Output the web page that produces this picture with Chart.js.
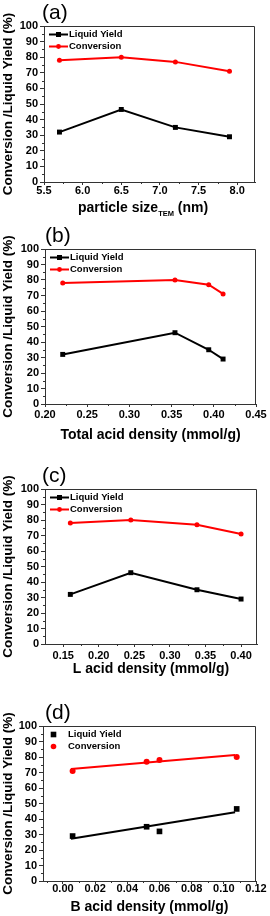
<!DOCTYPE html>
<html><head><meta charset="utf-8">
<script src="https://cdn.jsdelivr.net/npm/chart.js@4/dist/chart.umd.min.js"></script>
<style>
html,body{margin:0;padding:0;background:#fff;width:270px;height:916px;overflow:hidden}
.p{position:absolute;left:0;width:270px}
canvas{display:block}
</style></head><body>
<div class="p" style="top:0"><canvas id="ca" width="270" height="225"></canvas></div>
<div class="p" style="top:225px"><canvas id="cb" width="270" height="230"></canvas></div>
<div class="p" style="top:455px"><canvas id="cc" width="270" height="230"></canvas></div>
<div class="p" style="top:685px"><canvas id="cd" width="270" height="231"></canvas></div>
<script>
// ---------- data ----------
const yTicks = [0,10,20,30,40,50,60,70,80,90,100];
const yMinor = [5,15,25,35,45,55,65,75,85,95];

// (a) particle size
const sizeTEM = [5.7, 6.5, 7.2, 7.9];
const yieldA  = [32, 46.5, 35, 29];
const convA   = [78, 80, 77, 71];
const ticksA  = [5.5, 6.0, 6.5, 7.0, 7.5, 8.0];
const minorA  = [5.75, 6.25, 6.75, 7.25, 7.75];

// (b) total acid density
const totalAcid = [0.221, 0.354, 0.394, 0.411];
const yieldB    = [32, 46, 35, 29];
const convB     = [78, 80, 77, 71];
const ticksB    = [0.20, 0.25, 0.30, 0.35, 0.40, 0.45];
const minorB    = [0.225, 0.275, 0.325, 0.375, 0.425];

// (c) L acid density
const lAcid  = [0.16, 0.245, 0.338, 0.40];
const yieldC = [32, 46, 35, 29];
const convC  = [78, 80, 77, 71];
const ticksC = [0.15, 0.20, 0.25, 0.30, 0.35, 0.40];
const minorC = [0.175, 0.225, 0.275, 0.325, 0.375];

// (d) B acid density (points + linear fits)
const bAcid  = [0.006, 0.052, 0.060, 0.108];
const yieldD = [29, 35, 32, 46.5];
const convD  = [71, 77, 78, 80];
const fitX   = [0.005, 0.107];
const fitYieldD = [27.2, 44.3];
const fitConvD  = [72.3, 81.3];
const ticksD = [0.00, 0.02, 0.04, 0.06, 0.08, 0.10, 0.12];
const minorD = [-0.01, 0.01, 0.03, 0.05, 0.07, 0.09, 0.11];

const seriesNames = ['Liquid Yield', 'Conversion'];
const yTitle = 'Conversion /Liquid Yield (%)';

// ---------- drawing ----------
const F = '"Liberation Sans", Arial, Helvetica, sans-serif';
const AX = '#333';
const pts = (xs, ys) => xs.map((x, i) => ({x, y: ys[i]}));

const deco = {
  id: 'deco',
  afterDraw(chart, args, o) {
    const ctx = chart.ctx, a = chart.chartArea;
    const xs = chart.scales.x, ys = chart.scales.y;
    ctx.save();
    // frame (top/right)
    ctx.strokeStyle = AX; ctx.lineWidth = 1;
    ctx.beginPath();
    ctx.moveTo(a.left, a.top + 0.5); ctx.lineTo(a.right - 0.5, a.top + 0.5); ctx.lineTo(a.right - 0.5, a.bottom);
    ctx.stroke();
    // minor ticks
    ctx.beginPath();
    o.yMinor.forEach(v => { const p = Math.round(ys.getPixelForValue(v)) + 0.5; ctx.moveTo(a.left - 2, p); ctx.lineTo(a.left, p); });
    o.xMinor.forEach(v => { const p = Math.round(xs.getPixelForValue(v)) + 0.5; ctx.moveTo(p, a.bottom); ctx.lineTo(p, a.bottom + 2); });
    ctx.stroke();
    // legend
    ctx.font = 'bold 9.5px ' + F; ctx.textBaseline = 'middle'; ctx.textAlign = 'left'; ctx.fillStyle = '#000';
    chart.data.datasets.forEach((ds, i) => {
      if (!ds.legend) return;
      const y = a.top + 8.5 + 12 * (ds.legendRow);
      const x0 = a.left + 5, x1 = a.left + 24;
      if (ds.showLine) {
        ctx.strokeStyle = ds.borderColor; ctx.lineWidth = 2;
        ctx.beginPath(); ctx.moveTo(x0, y); ctx.lineTo(x1, y); ctx.stroke();
      }
      ctx.fillStyle = ds.backgroundColor;
      const cx = (x0 + x1) / 2 - (ds.showLine ? 0 : 4);
      if (ds.pointStyle === 'rect') { const s = ds.showLine ? 2.5 : 2.8; ctx.fillRect(cx - s, y - s, 2 * s, 2 * s); }
      else { ctx.beginPath(); ctx.arc(cx, y, ds.showLine ? 2.4 : 2.8, 0, Math.PI * 2); ctx.fill(); }
      ctx.fillStyle = '#000';
      ctx.fillText(ds.label, a.left + 25, y);
    });
    // panel label
    ctx.font = '21px ' + F; ctx.fillStyle = '#000'; ctx.textAlign = 'left'; ctx.textBaseline = 'middle';
    ctx.fillText(o.label, o.labelX, a.top - 13);
    // custom x title with subscript
    if (o.subTitle) {
      const st = o.subTitle; let x = st.x; const y = a.bottom + 26;
      ctx.font = 'bold 14px ' + F; ctx.fillText(st.main, x, y); x += ctx.measureText(st.main).width;
      ctx.font = 'bold 7.5px ' + F; ctx.fillText(st.sub, x, y + 5.5); x += ctx.measureText(st.sub).width;
      ctx.font = 'bold 14px ' + F; ctx.fillText(st.rest, x, y);
    }
    ctx.restore();
  }
};

function lineSets(xs, y1, y2) {
  return [
    {label: seriesNames[0], legend: true, legendRow: 0, data: pts(xs, y1), showLine: true,
     borderColor: '#000', backgroundColor: '#000', borderWidth: 2, pointStyle: 'rect', pointRadius: 3.5,
     pointBorderWidth: 0},
    {label: seriesNames[1], legend: true, legendRow: 1, data: pts(xs, y2), showLine: true,
     borderColor: '#ff0000', backgroundColor: '#ff0000', borderWidth: 2, pointStyle: 'circle', pointRadius: 2.5,
     pointBorderWidth: 0}
  ];
}

function makeChart(id, c) {
  return new Chart(document.getElementById(id), {
    type: 'scatter',
    data: {datasets: c.datasets},
    options: {
      responsive: false, animation: false, devicePixelRatio: 1,
      layout: {autoPadding: false, padding: {left: 0, top: c.pt, right: 270 - c.pr, bottom: c.H - c.pb - c.xh}},
      plugins: {legend: {display: false}, tooltip: {enabled: false},
        deco: {yMinor, xMinor: c.xMinor, label: c.label, labelX: c.labelX, subTitle: c.subTitle}},
      scales: {
        x: {type: 'linear', min: c.xmin, max: c.xmax,
          afterBuildTicks: s => { s.ticks = c.xTicks.map(v => ({value: v})); },
          afterFit: s => { s.height = c.xh; },
          ticks: {font: {family: F, size: 11, weight: 'bold'}, color: '#000', padding: c.tpad,
            maxRotation: 0, autoSkip: false, callback: v => Number(v).toFixed(c.dec)},
          grid: {drawOnChartArea: false, drawTicks: true, tickLength: 3, color: AX},
          border: {display: true, color: AX, width: 1},
          title: {display: !!c.xTitle, text: c.xTitle || '', color: '#000', padding: 0,
            font: {family: F, size: 14, weight: 'bold'}}},
        y: {min: 0, max: 100,
          afterBuildTicks: s => { s.ticks = yTicks.map(v => ({value: v})); },
          afterFit: s => { s.width = c.pl; },
          ticks: {font: {family: F, size: 11, weight: 'bold'}, color: '#000', padding: 2, autoSkip: false},
          grid: {drawOnChartArea: false, drawTicks: true, tickLength: 4, color: AX},
          border: {display: true, color: AX, width: 1},
          title: {display: true, text: yTitle, color: '#000', padding: 0,
            font: {family: F, size: 13.5, weight: 'bold'}}}
      }
    },
    plugins: [deco]
  });
}

makeChart('ca', {H: 225, pt: 26, pb: 182, pl: 44, pr: 255, xh: 34, tpad: -1,
  xmin: 5.5, xmax: 8.23, xTicks: ticksA, xMinor: minorA, dec: 1, label: '(a)', labelX: 42,
  subTitle: {x: 78, main: 'particle size', sub: 'TEM', rest: ' (nm)'},
  datasets: lineSets(sizeTEM, yieldA, convA)});

makeChart('cb', {H: 230, pt: 24, pb: 179, pl: 45, pr: 256, xh: 39.4, tpad: 1,
  xmin: 0.20, xmax: 0.45, xTicks: ticksB, xMinor: minorB, dec: 2, label: '(b)', labelX: 45,
  xTitle: 'Total acid density (mmol/g)',
  datasets: lineSets(totalAcid, yieldB, convB)});

makeChart('cc', {H: 230, pt: 34, pb: 189, pl: 45, pr: 257, xh: 33.4, tpad: 2,
  xmin: 0.1244, xmax: 0.4224, xTicks: ticksC, xMinor: minorC, dec: 2, label: '(c)', labelX: 42,
  xTitle: 'L acid density (mmol/g)',
  datasets: lineSets(lAcid, yieldC, convC)});

makeChart('cd', {H: 231, pt: 41, pb: 196, pl: 43, pr: 256, xh: 34.4, tpad: -2,
  xmin: -0.0124, xmax: 0.12, xTicks: ticksD, xMinor: minorD, dec: 2, label: '(d)', labelX: 45,
  xTitle: 'B acid density (mmol/g)',
  datasets: [
    {label: seriesNames[0], legend: true, legendRow: 0, data: pts(bAcid, yieldD), showLine: false,
     backgroundColor: '#000', borderColor: '#000', pointStyle: 'rect', pointRadius: 4, pointBorderWidth: 0},
    {label: seriesNames[1], legend: true, legendRow: 1, data: pts(bAcid, convD), showLine: false,
     backgroundColor: '#ff0000', borderColor: '#ff0000', pointStyle: 'circle', pointRadius: 3, pointBorderWidth: 0},
    {label: 'Liquid Yield fit', data: pts(fitX, fitYieldD), showLine: true, borderColor: '#000',
     backgroundColor: '#000', borderWidth: 2, pointRadius: 0},
    {label: 'Conversion fit', data: pts(fitX, fitConvD), showLine: true, borderColor: '#ff0000',
     backgroundColor: '#ff0000', borderWidth: 2, pointRadius: 0}
  ]});
</script>
</body></html>
